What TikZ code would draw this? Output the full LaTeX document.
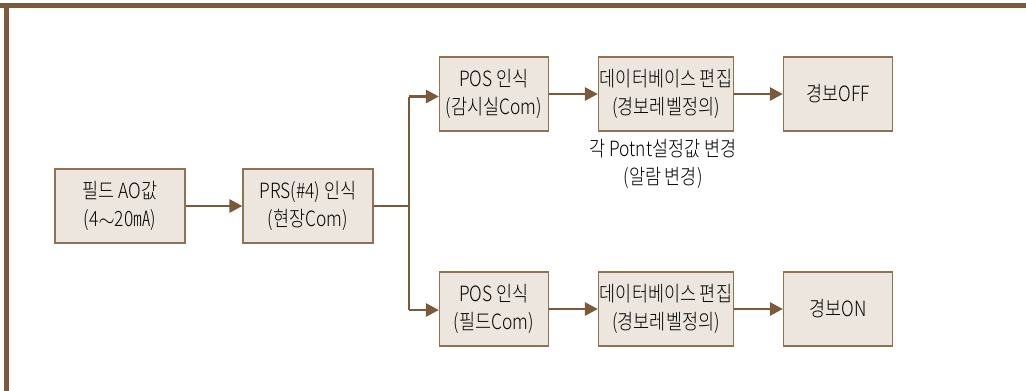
\documentclass[tikz,border=0pt]{standalone}
\usepackage{fontspec}
\setmainfont{Noto Sans CJK KR}[UprightFont=* Light, FakeStretch=0.83]
\usetikzlibrary{arrows.meta}
\definecolor{framec}{HTML}{7A5A3A}
\definecolor{boxfill}{HTML}{ECE6DE}
\definecolor{boxline}{HTML}{8E7254}
\tikzset{
  blk/.style={draw=boxline, line width=1.2pt, fill=boxfill, minimum height=74pt, inner sep=0pt, align=center, font=\fontsize{21}{28}\selectfont},
  conn/.style={draw=framec, line width=2.8pt, -{Triangle[length=13pt,width=13pt]}},
  plain/.style={draw=framec, line width=2.8pt},
  lbl/.style={align=center, font=\fontsize{21}{28}\selectfont}
}
\begin{document}
\begin{tikzpicture}[x=1pt,y=-1pt]
\useasboundingbox (0,0) rectangle (1026,391);
\fill[framec] (0,3) rectangle (1026,8);
\fill[framec] (4,3) rectangle (9,391);
\node[blk, minimum width=130pt] (a) at (120,206) {필드 AO값\\(4$\sim$20㎃)};
\node[blk, minimum width=130pt] (b) at (308,206) {PRS(\#4) 인식\\(현장Com)};
\node[blk, minimum width=109pt] (c) at (494,94) {POS 인식\\(감시실Com)};
\node[blk, minimum width=135pt] (d) at (666,94) {데이터베이스 편집\\(경보레벨정의)};
\node[blk, minimum width=109pt] (e) at (838,94) {경보OFF};
\node[blk, minimum width=109pt] (f) at (494,309) {POS 인식\\(필드Com)};
\node[blk, minimum width=135pt] (g) at (666,309) {데이터베이스 편집\\(경보레벨정의)};
\node[blk, minimum width=109pt] (h) at (838,309) {경보ON};
\node[lbl] (n) at (663,164) {각 Potnt설정값 변경\\(알람 변경)};
\coordinate (j) at (409,206);
\coordinate (jt) at (409,96.5);
\coordinate (jb) at (409,310);
\draw[conn] (a) -- (b);
\draw[plain] (b.east) -- (j);
\draw[plain] (jt) -- (jb);
\draw[conn] (jt) -- (jt -| c.west);
\draw[conn] (jb) -- (jb -| f.west);
\draw[conn] (c) -- (d);
\draw[conn] (d) -- (e);
\draw[conn] (f) -- (g);
\draw[conn] (g) -- (h);
\end{tikzpicture}
\end{document}
